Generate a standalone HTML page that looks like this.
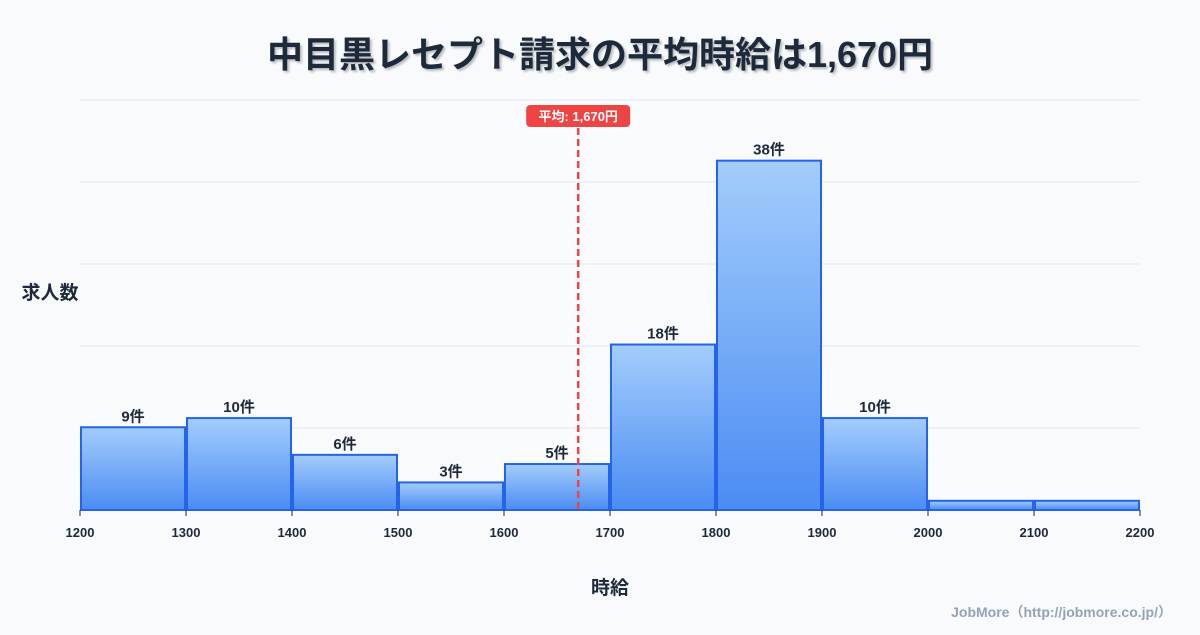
<!DOCTYPE html>
<html><head><meta charset="utf-8">
<style>
body{margin:0;background:#f8fafc;font-family:"Liberation Sans","Noto Sans CJK JP",sans-serif;}
svg text{font-family:"Liberation Sans","Noto Sans CJK JP",sans-serif;}
</style></head>
<body>
<svg id="chart" width="1200" height="630" viewBox="0 0 1200 630" xmlns="http://www.w3.org/2000/svg">
<defs>
<linearGradient id="g" x1="0" y1="0" x2="0" y2="1">
<stop offset="0" stop-color="#a3cdfb"/><stop offset="1" stop-color="#4b8cf3"/>
</linearGradient>
<filter id="ts"><feDropShadow dx="2" dy="2" stdDeviation="1" flood-color="#000" flood-opacity="0.25"/></filter>
</defs>
<rect width="1200" height="630" fill="#f8fafc"/>
<text x="600" y="67" text-anchor="middle" font-size="36" font-weight="bold" fill="#1e293b" filter="url(#ts)">中目黒レセプト請求の平均時給は1,670円</text>
<g id="grid"></g>
<g id="bars"></g>
<g id="xticks"></g>
<text x="50" y="299" text-anchor="middle" font-size="19" font-weight="bold" fill="#1e293b">求人数</text>
<text x="610" y="594" text-anchor="middle" font-size="19" font-weight="bold" fill="#1e293b">時給</text>
<g id="avg"></g>
<text x="1172" y="617" text-anchor="end" font-size="14" font-weight="bold" fill="#94a3b8">JobMore（http://jobmore.co.jp/）</text>
</svg>
<script>
const binStarts=[1200,1300,1400,1500,1600,1700,1800,1900,2000,2100];
const counts=[9,10,6,3,5,18,38,10,1,1];
const showLabel=[true,true,true,true,true,true,true,true,false,false];
const xTicks=[1200,1300,1400,1500,1600,1700,1800,1900,2000,2100,2200];
const avgValue=1670;
const avgLabel="平均: 1,670円";
const NS="http://www.w3.org/2000/svg";
const X0=80,X1=1140,Y0=510,Y1=100,xmin=1200,xmax=2200,ymax=44.6;
const x=v=>X0+(v-xmin)/(xmax-xmin)*(X1-X0);
const y=v=>Y0-v/ymax*(Y0-Y1);
function mk(t,a,p){const e=document.createElementNS(NS,t);for(const k in a)e.setAttribute(k,a[k]);p.appendChild(e);return e;}
const grid=document.getElementById('grid');
for(let i=0;i<=5;i++){const gy=Y0-i*(Y0-Y1)/5;
const l=mk('line',{x1:X0,x2:X1,y1:gy,y2:gy,stroke:'#e2e8f0','stroke-width':1},grid);

}
const bars=document.getElementById('bars');
binStarts.forEach((b,i)=>{
const xa=x(b)+1,xb=x(b+100)-1,yt=y(counts[i]);
const r=mk('rect',{x:xa,y:yt,width:xb-xa,height:Y0-yt,fill:'url(#g)',stroke:'#2563eb','stroke-width':2},bars);


if(showLabel[i]){const t=mk('text',{x:(xa+xb)/2,y:yt-6,'text-anchor':'middle','font-size':15,'font-weight':'bold',fill:'#1e293b'},bars);
t.textContent=counts[i]+'件';

}
});
const xt=document.getElementById('xticks');
xTicks.forEach(v=>{
const l=mk('line',{x1:x(v),x2:x(v),y1:Y0,y2:Y0+6,stroke:'#1e293b','stroke-width':1},xt);


const t=mk('text',{x:x(v),y:537,'text-anchor':'middle','font-size':13,'font-weight':'bold',fill:'#1e293b'},xt);
t.textContent=v;


});
const av=document.getElementById('avg');const ax=x(avgValue);
const al=mk('line',{x1:ax,x2:ax,y1:128,y2:Y0,stroke:'#ef4444','stroke-width':2.5,'stroke-dasharray':'7,4'},av);


const ab=mk('rect',{x:ax-52,y:105,width:104,height:22,rx:4,fill:'#ef4444'},av);


const at=mk('text',{x:ax,y:121,'text-anchor':'middle','font-size':13,'font-weight':'bold',fill:'#fff'},av);
at.textContent=avgLabel;


</script>
</body></html>
